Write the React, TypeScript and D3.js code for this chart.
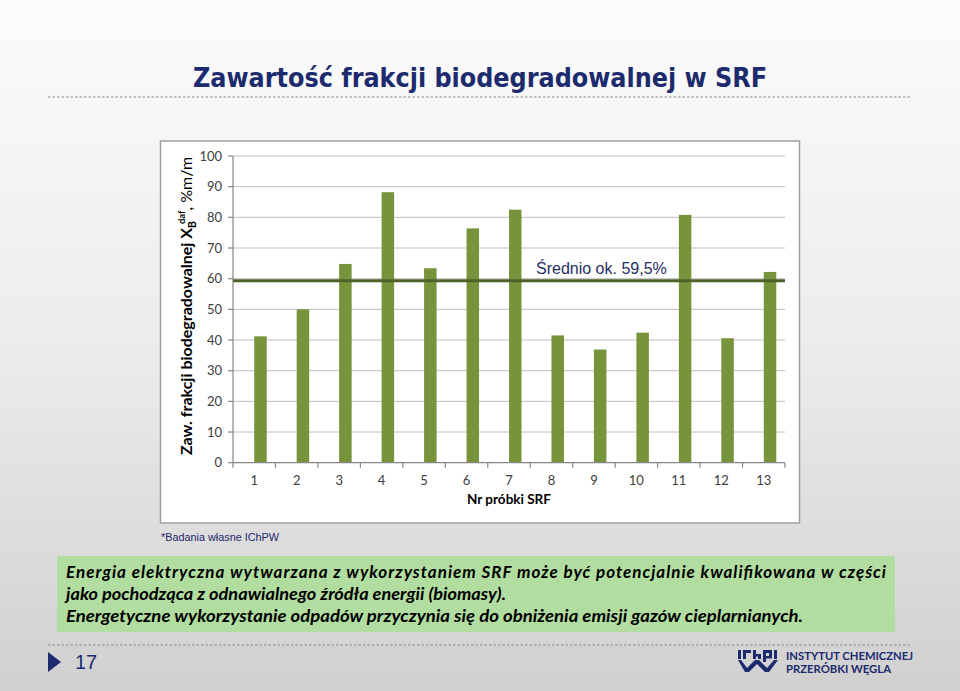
import React from "react";
import * as d3 from "d3";

const categories = ["1", "2", "3", "4", "5", "6", "7", "8", "9", "10", "11", "12", "13"];
const values = [41.2, 50.0, 64.8, 88.2, 63.4, 76.4, 82.5, 41.5, 36.9, 42.4, 80.8, 40.6, 62.2];
const averageValue = 59.3;
const averageLabel = "Średnio ok. 59,5%";
const yTicks = [0, 10, 20, 30, 40, 50, 60, 70, 80, 90, 100];
const title = "Zawartość frakcji biodegradowalnej w SRF";
const xTitle = "Nr próbki SRF";
const source = "*Badania własne IChPW";
const bodyLines = [
  "Energia elektryczna wytwarzana z wykorzystaniem SRF może być potencjalnie kwalifikowana w części",
  "jako pochodząca z odnawialnego źródła energii (biomasy).",
  "Energetyczne wykorzystanie odpadów przyczynia się do obniżenia emisji gazów cieplarnianych.",
];
const pageNumber = "17";
const logoLines = ["INSTYTUT CHEMICZNEJ", "PRZERÓBKI WĘGLA"];

const W = 960;
const H = 691;
const plotLeft = 233;
const plotRight = 785;
const plotTop = 156;
const plotBottom = 462.7;

export default function App() {
  const x = d3.scaleBand<string>().domain(categories).range([plotLeft, plotRight]).padding(0);
  const y = d3.scaleLinear().domain([0, 100]).range([plotBottom, plotTop]);
  const bw = x.bandwidth();
  const barW = 12.5;
  const navy = "#1c2a6e";
  const labelFont = "Lato, 'Open Sans', sans-serif";

  return (
    <div style={{ position: "absolute", left: 0, top: 0 }}>
      <svg width={W} height={H} viewBox={`0 0 ${W} ${H}`} style={{ display: "block" }}>
        <defs>
          <linearGradient id="bg" x1="0" y1="0" x2="0" y2="1">
            <stop offset="0" stopColor="#fcfcfc" />
            <stop offset="0.5" stopColor="#ececec" />
            <stop offset="1" stopColor="#d0d0d0" />
          </linearGradient>
        </defs>
        <rect x={0} y={0} width={W} height={H} fill="url(#bg)" />

        {/* Title */}
        <text
          x={480}
          y={87}
          textAnchor="middle"
          fontFamily="'DejaVu Sans Condensed', 'DejaVu Sans', sans-serif"
          fontWeight="bold"
          fontSize={27}
          fill={navy}
          textLength={574}
          lengthAdjust="spacingAndGlyphs"
        >
          {title}
        </text>
        <line x1={48} x2={912} y1={97} y2={97} stroke="#8a8a8a" strokeWidth={1.2} strokeDasharray="2.5,2" />

        {/* Chart frame */}
        <rect x={160.5} y={141} width={639} height={382} fill="#ffffff" stroke="#a0a0a0" strokeWidth={1.5} />

        {/* Gridlines */}
        {yTicks.filter((t) => t > 0).map((t) => (
          <line key={"g" + t} x1={plotLeft} x2={plotRight} y1={y(t)} y2={y(t)} stroke="#bfbfbf" strokeWidth={1} />
        ))}

        {/* Bars */}
        {categories.map((c, i) => (
          <rect
            key={"b" + c}
            x={(x(c) as number) + bw / 2}
            y={y(values[i])}
            width={barW}
            height={plotBottom - y(values[i])}
            fill="#77933c"
          />
        ))}

        {/* Axes */}
        <line x1={plotLeft} x2={plotLeft} y1={plotTop} y2={plotBottom} stroke="#868686" strokeWidth={1.2} />
        {yTicks.map((t) => (
          <g key={"yt" + t}>
            <line x1={plotLeft - 5} x2={plotLeft} y1={y(t)} y2={y(t)} stroke="#868686" strokeWidth={1.2} />
            <text
              x={222}
              y={y(t) + 4.5}
              textAnchor="end"
              fontFamily={labelFont}
              fontSize={13}
              fill="#404040"
            >
              {t}
            </text>
          </g>
        ))}
        <line x1={plotLeft} x2={plotRight} y1={plotBottom} y2={plotBottom} stroke="#868686" strokeWidth={1.2} />
        {[...categories.map((c) => x(c) as number), plotRight].map((v, i) => (
          <line key={"xt" + i} x1={v} x2={v} y1={plotBottom} y2={plotBottom + 5} stroke="#868686" strokeWidth={1.2} />
        ))}
        {categories.map((c) => (
          <text
            key={"xl" + c}
            x={(x(c) as number) + bw / 2}
            y={485}
            textAnchor="middle"
            fontFamily={labelFont}
            fontSize={13}
            fill="#404040"
          >
            {c}
          </text>
        ))}

        {/* Average line */}
        <line x1={plotLeft} x2={plotRight} y1={y(averageValue)} y2={y(averageValue)} stroke="#4f6228" strokeWidth={3} />
        <text x={536} y={274} fontFamily="'Liberation Sans', Arial, sans-serif" fontSize={16} fill="#1f2f5f">
          {averageLabel}
        </text>

        {/* Axis titles */}
        <text x={509} y={504} textAnchor="middle" fontFamily={labelFont} fontWeight="bold" fontSize={13.5} fill="#000">
          {xTitle}
        </text>
        <text
          transform="translate(192,306) rotate(-90)"
          textAnchor="middle"
          fontFamily={labelFont}
          fontSize={16}
          fill="#000"
        >
          <tspan fontWeight="bold">Zaw. frakcji biodegradowalnej X</tspan>
          <tspan fontWeight="bold" fontSize={10.5} dy={4}>B</tspan>
          <tspan fontWeight="bold" fontSize={9.5} dy={-11} dx={-3}>daf</tspan>
          <tspan dy={7}>, %m/m</tspan>
        </text>

        {/* Source */}
        <text x={161} y={541} fontFamily="'Liberation Sans', Arial, sans-serif" fontSize={10} fill={navy} textLength={118} lengthAdjust="spacingAndGlyphs">
          {source}
        </text>

        {/* Green box */}
        <rect x={57} y={556} width={838} height={76} fill="#b2dda0" />
        {bodyLines.map((ln, i) => (
          <text
            key={"bl" + i}
            x={66}
            y={578 + i * 22}
            fontFamily={labelFont}
            fontStyle="italic"
            fontWeight="bold"
            fontSize={17}
            fill="#000"
            textLength={[820, 440, 737][i]}
            lengthAdjust={i === 0 ? "spacing" : "spacingAndGlyphs"}
          >
            {ln}
          </text>
        ))}

        {/* Footer */}
        <line x1={48} x2={912} y1={645} y2={645} stroke="#8a8a8a" strokeWidth={1.2} strokeDasharray="2.5,2" />
        <path d="M48,652 L61,662 L48,672 Z" fill={navy} />
        <text x={75} y={669} fontFamily="'Liberation Sans', Arial, sans-serif" fontSize={20} fill={navy}>
          {pageNumber}
        </text>

        {/* Logo mark */}
        <g fill={navy}>
          <rect x={738} y={650} width={3} height={9} />
          <rect x={743} y={650} width={8} height={3} />
          <rect x={743} y={650} width={3} height={9} />
          <rect x={753} y={650} width={3} height={9} />
          <rect x={753} y={654} width={8} height={2.5} />
          <rect x={758} y={654} width={3} height={5} />
          <rect x={763} y={650} width={9} height={3} />
          <rect x={763} y={650} width={3} height={12} />
          <rect x={769} y={650} width={3} height={8} />
          <rect x={763} y={656} width={9} height={2.5} />
          <rect x={774} y={650} width={3} height={9} />
          <path d="M738,660 L741,660 L747,668 L755,660 L759,660 L767,668 L774,660 L778,660 L769,672 L765,672 L757,664 L749,672 L745,672 Z" />
        </g>
        {logoLines.map((ln, i) => (
          <text
            key={"lg" + i}
            x={786}
            y={660 + i * 12.5}
            fontFamily={labelFont}
            fontWeight="bold"
            fontSize={11.5}
            fill={navy}
            textLength={i === 0 ? 127 : 105}
            lengthAdjust="spacingAndGlyphs"
          >
            {ln}
          </text>
        ))}
      </svg>
    </div>
  );
}
